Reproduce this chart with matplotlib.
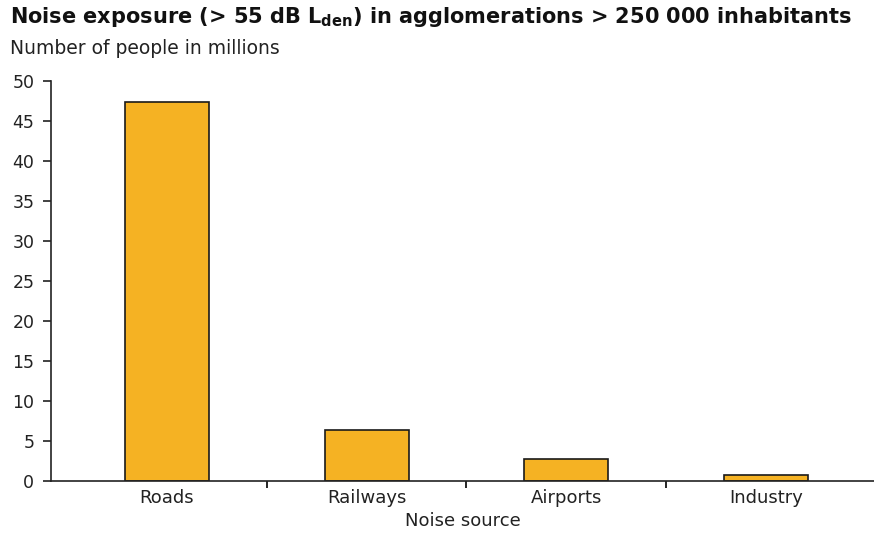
import matplotlib
matplotlib.use('Agg')
import matplotlib.pyplot as plt
import numpy as np

sources = ['Roads', 'Railways', 'Airports', 'Industry']
people_millions = [47.4, 6.4, 2.7, 0.8]
y_ticks = [0, 5, 10, 15, 20, 25, 30, 35, 40, 45, 50]

plt.rcParams['font.family'] = 'DejaVu Sans'
plt.rcParams['mathtext.default'] = 'regular'

fig = plt.figure(figsize=(8.74, 5.33), dpi=100)
ax = fig.add_axes([51 / 874, 1 - 481 / 533, 1 - 51 / 874, 400 / 533])

x = np.arange(len(sources))
ax.bar(x, people_millions, width=0.42, color='#F5B223', edgecolor='#1a1a1a', linewidth=1.2)

ax.set_xlim(-0.58, 3.54)
ax.set_ylim(0, 50)
ax.set_yticks(y_ticks)
ax.tick_params(axis='y', labelsize=12.5, length=6, width=1.2, pad=6, colors='#222222')

# category labels at centers, ticks at category boundaries
ax.set_xticks(x[:-1] + 0.5)
ax.set_xticklabels([])
ax.set_xticks(x, minor=True)
ax.set_xticklabels(sources, minor=True)
ax.tick_params(axis='x', which='major', direction='out', length=5, width=1.2)
ax.tick_params(axis='x', which='minor', length=0, labelsize=13, pad=6, colors='#222222')

for side in ['top', 'right']:
    ax.spines[side].set_visible(False)
for side in ['left', 'bottom']:
    ax.spines[side].set_linewidth(1.2)
    ax.spines[side].set_color('#222222')

ax.set_xlabel('Noise source', fontsize=13, labelpad=3, color='#222222')

fig.text(10 / 874, 1 - 17 / 533, 'Noise exposure (> 55 dB L$_{den}$) in agglomerations > 250 000 inhabitants',
         fontsize=15, fontweight='bold', va='center', ha='left', color='#111111')
fig.text(10 / 874, 1 - 49 / 533, 'Number of people in millions', fontsize=13.5, va='center', ha='left',
         color='#222222')

fig.savefig('out.png', dpi=100)
